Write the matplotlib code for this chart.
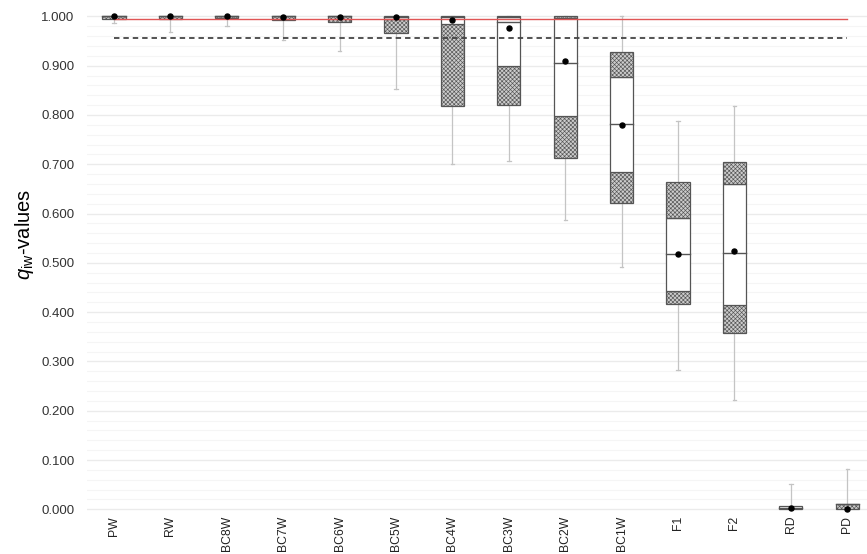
import matplotlib
matplotlib.use("Agg")
import matplotlib.pyplot as plt
from matplotlib.patches import Rectangle
from matplotlib.ticker import MultipleLocator, FormatStrFormatter

plt.rcParams['font.family'] = ['Liberation Sans', 'DejaVu Sans']
plt.rcParams['mathtext.fontset'] = 'custom'
plt.rcParams['mathtext.rm'] = 'Liberation Sans'
plt.rcParams['mathtext.it'] = 'Liberation Sans:italic'
plt.rcParams['hatch.linewidth'] = 0.45
plt.rcParams['hatch.color'] = '#808080'

# ---- data ----
categories = ['PW', 'RW', 'BC8W', 'BC7W', 'BC6W', 'BC5W', 'BC4W', 'BC3W',
              'BC2W', 'BC1W', 'F1', 'F2', 'RD', 'PD']
whisker_low = [0.986, 0.969, 0.981, 0.953, 0.930, 0.852, 0.700, 0.707,
               0.587, 0.492, 0.283, 0.222, 0.000, 0.000]
box_low = [0.995, 0.995, 0.997, 0.992, 0.989, 0.966, 0.818, 0.821,
           0.712, 0.621, 0.416, 0.357, 0.000, 0.000]
hatch_low_top = [1.000, 1.000, 1.000, 1.000, 1.000, 0.994, 0.984, 0.900,
                 0.798, 0.684, 0.443, 0.414, 0.000, 0.011]
median = [1.000, 1.000, 1.000, 1.000, 1.000, 0.999, 0.998, 0.989,
          0.906, 0.782, 0.518, 0.520, 0.002, 0.011]
hatch_high_bottom = [1.000, 1.000, 1.000, 1.000, 1.000, 1.000, 1.000, 0.998,
                     0.996, 0.877, 0.591, 0.659, 0.006, 0.011]
box_high = [1.000, 1.000, 1.000, 1.000, 1.000, 1.000, 1.000, 1.000,
            1.000, 0.927, 0.6645, 0.705, 0.006, 0.011]
whisker_high = [1.000, 1.000, 1.000, 1.000, 1.000, 1.000, 1.000, 1.000,
                1.000, 1.000, 0.788, 0.818, 0.051, 0.082]
means = [1.000, 1.000, 1.000, 0.999, 0.999, 0.998, 0.993, 0.976,
         0.909, 0.780, 0.517, 0.525, 0.002, 0.001]
red_level = 0.994
dashed_level = 0.957
y_ticks = [0.0, 0.1, 0.2, 0.3, 0.4, 0.5, 0.6, 0.7, 0.8, 0.9, 1.0]

# ---- figure ----
fig = plt.figure(figsize=(8.67, 5.54), dpi=100)
ax = fig.add_axes([0.1003, 0.0753, 0.8997, 0.9085])

w = 0.41
edge = '#555555'
hatch_face = '#cccccc'
hatch_pat = 'xxxxxxxx'
for i, cat in enumerate(categories):
    # whiskers
    ax.plot([i, i], [whisker_low[i], box_low[i]], color='#c4c4c4', lw=0.9, zorder=2)
    ax.plot([i, i], [box_high[i], whisker_high[i]], color='#c4c4c4', lw=0.9, zorder=2)
    for v in (whisker_low[i], whisker_high[i]):
        ax.plot([i - 0.03, i + 0.03], [v, v], color='#c4c4c4', lw=0.9, zorder=2)
    # lower hatched part
    if hatch_low_top[i] > box_low[i]:
        ax.add_patch(Rectangle((i - w / 2, box_low[i]), w, hatch_low_top[i] - box_low[i],
                               facecolor=hatch_face, edgecolor=edge, hatch=hatch_pat,
                               lw=0.9, zorder=3))
    # white parts
    if hatch_high_bottom[i] > hatch_low_top[i]:
        ax.add_patch(Rectangle((i - w / 2, hatch_low_top[i]), w,
                               hatch_high_bottom[i] - hatch_low_top[i],
                               facecolor='white', edgecolor=edge, lw=0.9, zorder=3))
    # upper hatched part
    if box_high[i] > hatch_high_bottom[i]:
        ax.add_patch(Rectangle((i - w / 2, hatch_high_bottom[i]), w,
                               box_high[i] - hatch_high_bottom[i],
                               facecolor=hatch_face, edgecolor=edge, hatch=hatch_pat,
                               lw=0.9, zorder=3))
    # median
    ax.plot([i - w / 2, i + w / 2], [median[i], median[i]], color=edge, lw=1.0, zorder=4)

# reference lines
ax.plot([0, len(categories) - 1], [red_level, red_level], color='#e05555', lw=1.0, zorder=5)
ax.plot([0, len(categories) - 1], [dashed_level, dashed_level], color='#444444',
        lw=1.3, ls=(0, (3, 2.2)), zorder=5)

# means
ax.plot(range(len(categories)), means, 'o', color='black', ms=3.6, zorder=6, ls='none')

ax.set_xlim(-0.48, 13.35)
ax.set_ylim(-0.006, 1.015)
ax.set_xticks(range(len(categories)))
ax.set_xticklabels(categories, rotation=90, fontsize=8.8, color='#222222')
ax.set_yticks(y_ticks)
ax.yaxis.set_major_formatter(FormatStrFormatter('%.3f'))
ax.yaxis.set_minor_locator(MultipleLocator(0.02))
ax.tick_params(axis='y', which='both', length=0, labelsize=9.5, pad=9, labelcolor='#333333')
ax.tick_params(axis='x', length=0, pad=2.5)
ax.grid(axis='y', which='major', color='#ebebeb', lw=1.0, zorder=0)
ax.grid(axis='y', which='minor', color='#f5f5f5', lw=0.8, zorder=0)
ax.set_axisbelow(True)
for s in ax.spines.values():
    s.set_visible(False)
ax.set_ylabel(r'$q_{\mathrm{iw}}$-values', fontsize=14.5)
ax.yaxis.set_label_coords(-0.065, 0.553)

fig.savefig('out.png', dpi=100)
